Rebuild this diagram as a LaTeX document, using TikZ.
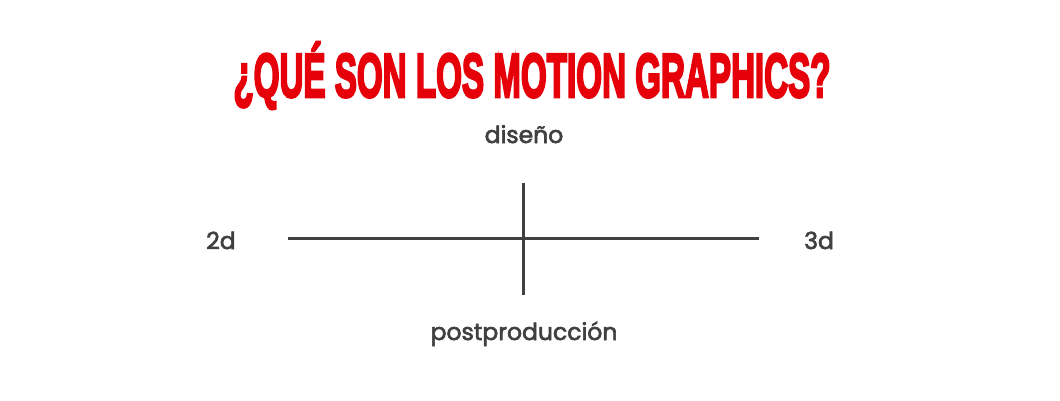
\documentclass[tikz,border=0pt]{standalone}
\usepackage{fontspec}
\setmainfont{Poppins}
\newfontfamily\titlefont{Liberation Sans}[FakeBold=4.5]
\newfontfamily\labelfont{Poppins}[FakeBold=2.6]
\definecolor{titlered}{RGB}{230,0,10}
\definecolor{axisgray}{RGB}{64,64,64}

\begin{document}
\begin{tikzpicture}[x=1pt, y=-1pt,
    axislabel/.style={text=axisgray, font=\labelfont\fontsize{23.5}{28}\selectfont, anchor=base, inner sep=0pt},
    axisline/.style={draw=axisgray, line width=3pt}]
    \useasboundingbox[fill=white] (0,0) rectangle (1060,401);
    \node (title) [anchor=base, inner sep=0pt, text=titlered] at (532,97)
        {\scalebox{0.535}[1]{\titlefont\bfseries\fontsize{62}{64}\selectfont ¿QUÉ SON LOS MOTION GRAPHICS?}};
    \node (top) [axislabel] at (524,143) {diseño};
    \node (bottom) [axislabel] at (524,340) {postproducción};
    \node (left) [axislabel] at (221,249) {2d};
    \node (right) [axislabel] at (819,249) {3d};
    \coordinate (w) at (288,238);
    \coordinate (e) at (759,238);
    \coordinate (n) at (523,183);
    \coordinate (s) at (523,295);
    \draw[axisline] (w) -- (e);
    \draw[axisline] (n) -- (s);
\end{tikzpicture}
\end{document}
